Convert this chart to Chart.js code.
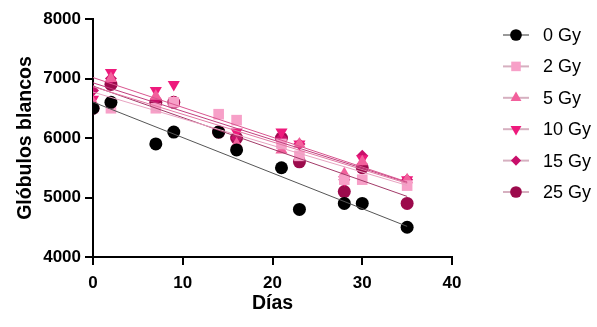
<!DOCTYPE html>
<html>
<head>
<meta charset="utf-8">
<script src="https://cdn.jsdelivr.net/npm/chart.js@4"></script>
<style>
  html, body { margin: 0; padding: 0; background: #fff; }
  #wrap { width: 597px; height: 327px; }
</style>
</head>
<body>
<div id="wrap"><canvas id="myChart" width="597" height="327"></canvas></div>
<script>
// data
const days = [0, 2, 7, 9, 14, 16, 21, 23, 28, 30, 35];
const gy0  = [6500, 6600, 5900, 6100, 6100, 5800, 5500, 4800, 4900, 4900, 4500];
const gy2  = [6500, 6500, 6500, 6600, 6400, 6300, 5900, 5700, 5300, 5300, 5200];
const gy5  = [6600, 7000, 6700, 6600, 6100, 5900, 5800, 5900, 5400, 5600, 5300];
const gy10 = [6650, 7100, 6800, 6900, 6100, 6100, 6100, 5900, 5300, 5650, 5300];
const gy15 = [6800, 7000, 6650, 6600, 6100, 6000, 6000, 5900, 5300, 5700, 5300];
const gy25 = [6500, 6900, 6600, 6600, 6100, 6000, 6000, 5600, 5100, 5500, 4900];
const seriesLabels = ["0 Gy", "2 Gy", "5 Gy", "10 Gy", "15 Gy", "25 Gy"];
const xTicks = [0, 10, 20, 30, 40];
const yTicks = [4000, 5000, 6000, 7000, 8000];

window.onload = function () {
  const FONT = "'Liberation Sans', Arial, sans-serif";

  const series = [gy0, gy2, gy5, gy10, gy15, gy25];
  const colors = ["#000000", "#f7a0c8", "#f2609c", "#ee1a7c", "#c80f6a", "#9c0a4c"];
  const lineColors = ["#555555", "#e7a3c0", "#e27aa4", "#d9548f", "#c0407e", "#a23a68"];
  const styles = [
    { pointStyle: "circle", radius: 6.5, rotation: 0 },
    { pointStyle: "rect", radius: 7.5, rotation: 0 },
    { pointStyle: "triangle", radius: 7, rotation: 0 },
    { pointStyle: "triangle", radius: 7, rotation: 180 },
    { pointStyle: "rectRot", radius: 6, rotation: 0 },
    { pointStyle: "circle", radius: 6.5, rotation: 0 },
  ];

  // least squares line through each group
  function fit(ys) {
    const n = days.length;
    let sx = 0, sy = 0, sxx = 0, sxy = 0;
    for (let i = 0; i < n; i++) {
      sx += days[i]; sy += ys[i];
      sxx += days[i] * days[i]; sxy += days[i] * ys[i];
    }
    const b = (n * sxy - sx * sy) / (n * sxx - sx * sx);
    const a = (sy - b * sx) / n;
    const x0 = days[0], x1 = days[days.length - 1];
    return [{ x: x0, y: a + b * x0 }, { x: x1, y: a + b * x1 }];
  }

  const datasets = [];
  series.forEach((ys, i) => {
    datasets.push({
      type: "line",
      data: fit(ys),
      borderColor: lineColors[i],
      borderWidth: 1,
      pointRadius: 0,
      fill: false,
    });
  });
  series.forEach((ys, i) => {
    datasets.push({
      type: "scatter",
      data: days.map((d, j) => ({ x: d, y: ys[j] })),
      backgroundColor: colors[i],
      borderColor: colors[i],
      borderWidth: 0,
      pointStyle: styles[i].pointStyle,
      pointRadius: styles[i].radius,
      pointRotation: styles[i].rotation,
    });
  });

  const legendPlugin = {
    id: "sideLegend",
    afterDraw(chart) {
      const ctx = chart.ctx;
      const top = 35, step = 31.4;
      ctx.save();
      seriesLabels.forEach((lab, i) => {
        const y = top + i * step;
        ctx.strokeStyle = i === 0 ? "#999999" : "#d6b0c0";
        ctx.lineWidth = 2;
        ctx.beginPath();
        ctx.moveTo(503, y);
        ctx.lineTo(529, y);
        ctx.stroke();
        ctx.fillStyle = colors[i];
        ctx.strokeStyle = colors[i];
        Chart.helpers.drawPoint(ctx, {
          pointStyle: styles[i].pointStyle,
          radius: styles[i].radius * (i === 4 ? 0.85 : 0.9),
          rotation: styles[i].rotation,
          borderWidth: 0,
        }, 516, y);
        ctx.fillStyle = "#000";
        ctx.font = "18px " + FONT;
        ctx.textAlign = "left";
        ctx.textBaseline = "middle";
        ctx.fillText(lab, 543, y + 1);
      });
      ctx.restore();
    },
  };

  const ctx = document.getElementById("myChart").getContext("2d");
  const myChart = new Chart(ctx, {
    data: { datasets: datasets },
    plugins: [legendPlugin],
    options: {
      responsive: false,
      animation: false,
      layout: { padding: { left: 0, top: 19, right: 145, bottom: 0 } },
      plugins: { legend: { display: false }, tooltip: { enabled: false } },
      scales: {
        x: {
          type: "linear",
          min: 0,
          max: 40,
          afterFit: (s) => { s.height = 70; },
          afterBuildTicks: (s) => { s.ticks = xTicks.map((v) => ({ value: v })); },
          grid: { display: true, drawOnChartArea: false, drawTicks: true, tickLength: 8, color: "#000", lineWidth: 2 },
          border: { display: true, color: "#000", width: 2 },
          ticks: {
            color: "#000",
            padding: 8,
            font: { family: FONT, size: 17, weight: "bold" },
            callback: (v) => String(v),
          },
          title: {
            display: true,
            text: "Días",
            color: "#000",
            padding: { top: 0, bottom: 12 },
            font: { family: FONT, size: 19.5, weight: "bold" },
          },
        },
        y: {
          type: "linear",
          min: 4000,
          max: 8000,
          afterFit: (s) => { s.width = 93; },
          afterBuildTicks: (s) => { s.ticks = yTicks.map((v) => ({ value: v })); },
          grid: { display: true, drawOnChartArea: false, drawTicks: true, tickLength: 8, color: "#000", lineWidth: 2 },
          border: { display: true, color: "#000", width: 2 },
          ticks: {
            color: "#000",
            padding: 4,
            font: { family: FONT, size: 17, weight: "bold" },
            callback: (v) => String(v),
          },
          title: {
            display: true,
            text: "Glóbulos blancos",
            color: "#000",
            padding: { top: 14, bottom: 0 },
            font: { family: FONT, size: 19.5, weight: "bold" },
          },
        },
      },
    },
  });
};
</script>
</body>
</html>
